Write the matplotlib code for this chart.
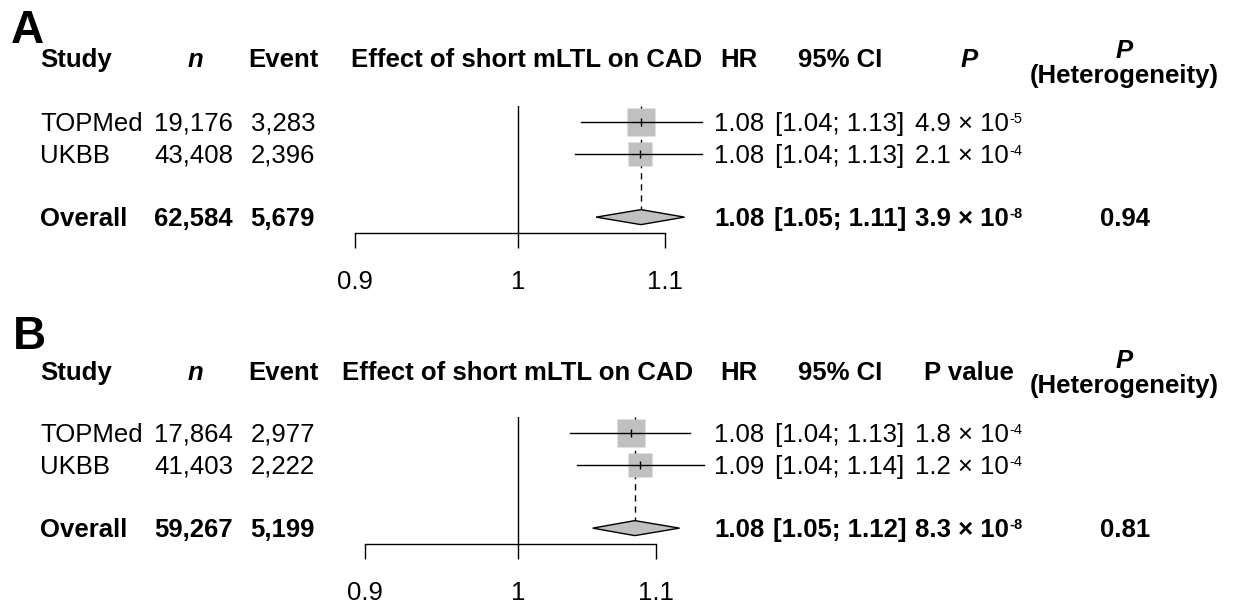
import numpy as np
import matplotlib
matplotlib.use("Agg")
import matplotlib.pyplot as plt
from matplotlib.patches import Polygon
from matplotlib.ticker import NullLocator

plt.rcParams["font.family"] = ["Liberation Sans", "DejaVu Sans"]

# ── Data ──────────────────────────────────────────────────────────────────
studies = ["TOPMed", "UKBB"]

# panel A
n_a = [19176, 43408]
event_a = [3283, 2396]
hr_a = [1.083, 1.082]
lo_a = [1.042, 1.038]
hi_a = [1.127, 1.127]
weight_a = [54, 46]
p_a = [4.9e-5, 2.1e-4]
n_all_a, event_all_a = 62584, 5679
hr_all_a, lo_all_a, hi_all_a = 1.083, 1.052, 1.114
p_all_a, p_het_a = 3.9e-8, 0.94

# panel B
n_b = [17864, 41403]
event_b = [2977, 2222]
hr_b = [1.081, 1.088]
lo_b = [1.037, 1.042]
hi_b = [1.126, 1.137]
weight_b = [54, 46]
p_b = [1.8e-4, 1.2e-4]
n_all_b, event_all_b = 59267, 5199
hr_all_b, lo_all_b, hi_all_b = 1.084, 1.053, 1.118
p_all_b, p_het_b = 8.3e-8, 0.81

ticks = [0.9, 1, 1.1]
tick_labels = ["0.9", "1", "1.1"]

W, H = 1250, 605
FS = 18.5
GREY = "#c0c0c0"


def split_p(p):
    e = int(np.floor(np.log10(p)))
    m = p / 10 ** e
    return f"{m:.1f} × 10", f"{e:d}"


fig = plt.figure(figsize=(W / 100, H / 100), dpi=100)
ax_t = fig.add_axes([0, 0, 1, 1])
ax_t.set_xlim(0, W)
ax_t.set_ylim(H, 0)
ax_t.axis("off")


def panel(label, lay, n, ev, hr, lo, hi, wt, pv,
          n_all, ev_all, hr_all, lo_all, hi_all, p_all, p_het, p_head):
    top, bot, x0, x1 = lay["top"], lay["bot"], lay["x09"], lay["x11"]
    rowh = (bot - top) / 4.0
    ax = fig.add_axes([x0 / W, 1 - bot / H, (x1 - x0) / W, (bot - top) / H])
    ax.patch.set_alpha(0)
    ax.set_xscale("log")
    ax.set_xlim(0.9, 1.1)
    ax.set_ylim(3.5, -0.5)
    ax.xaxis.set_minor_locator(NullLocator())
    ax.set_xticks(ticks)
    ax.set_xticklabels(tick_labels)
    ax.tick_params(axis="x", direction="out", length=10.8, width=1.0,
                   pad=16, labelsize=FS)
    ax.set_yticks([])
    for s in ["top", "left", "right"]:
        ax.spines[s].set_visible(False)
    ax.spines["bottom"].set_linewidth(1.0)

    ax.axvline(1, color="black", lw=1.0)
    dh = 7.5 / rowh
    ax.plot([hr_all, hr_all], [-0.5, 3 - dh], color="black", lw=1.0,
            ls=(0, (4.5, 3.5)), clip_on=False)
    wmax = max(wt)
    for i in range(len(hr)):
        ax.plot(hr[i], i, marker="s", ms=19.5 * np.sqrt(wt[i] / wmax),
                color=GREY, mec="none", clip_on=False, zorder=2)
        ax.plot([lo[i], hi[i]], [i, i], color="black", lw=1.0,
                clip_on=False, zorder=3)
        ax.plot(hr[i], i, marker="|", ms=6, mew=1.0, color="black",
                clip_on=False, zorder=4)
    ax.add_patch(Polygon([(lo_all, 3), (hr_all, 3 - dh), (hi_all, 3),
                          (hr_all, 3 + dh)], closed=True, fc=GREY,
                         ec="black", lw=1.0, clip_on=False, zorder=3))

    # text table
    hb = lay["head"]
    ax_t.text(lay["lab_x"], lay["lab_y"], label, fontsize=33,
              fontweight="bold", ha="left", va="baseline")
    hd = dict(fontsize=FS, fontweight="bold", va="baseline")
    ax_t.text(40, hb, "Study", ha="left", **hd)
    ax_t.text(195, hb, "n", ha="center", style="italic", **hd)
    ax_t.text(283, hb, "Event", ha="center", **hd)
    ax_t.text(lay["eff_x"], hb, "Effect of short mLTL on CAD", ha="center", **hd)
    ax_t.text(739, hb, "HR", ha="center", **hd)
    ax_t.text(840, hb, "95% CI", ha="center", **hd)
    if p_head == "P":
        ax_t.text(969, hb, "P", ha="center", style="italic", **hd)
    else:
        ax_t.text(969, hb, p_head, ha="center", **hd)
    ax_t.text(1124, lay["het1"], "P", ha="center", style="italic", **hd)
    ax_t.text(1124, lay["het2"], "(Heterogeneity)", ha="center", **hd)

    def row(yc, name, nn, ee, h, l, u, p, bold, het=None):
        fw = "bold" if bold else "normal"
        kw = dict(fontsize=FS, va="baseline", fontweight=fw)
        yb = yc + 9
        ax_t.text(40, yb, name, ha="left", **kw)
        ax_t.text(233, yb, f"{nn:,}", ha="right", **kw)
        ax_t.text(315, yb, f"{ee:,}", ha="right", **kw)
        ax_t.text(739, yb, f"{h:.2f}", ha="center", **kw)
        ax_t.text(840, yb, f"[{l:.2f}; {u:.2f}]", ha="center", **kw)
        base, ex = split_p(p)
        t = ax_t.text(962, yb, base, ha="center", **kw)
        ax_t.annotate(ex, xy=(1, 1), xycoords=t, xytext=(0.5, 0),
                      textcoords="offset points", ha="left", va="top",
                      fontsize=10.5, fontweight=fw)
        if het is not None:
            ax_t.text(1125, yb, f"{het:.2f}", ha="center", **kw)

    for i in range(len(studies)):
        row(top + (i + 0.5) * rowh, studies[i], n[i], ev[i], hr[i], lo[i],
            hi[i], pv[i], False)
    row(top + 3.5 * rowh, "Overall", n_all, ev_all, hr_all, lo_all, hi_all,
        p_all, True, p_het)


lay_a = dict(top=106, bot=233, x09=355, x11=665, head=67, het1=58, het2=83,
             lab_x=11, lab_y=43, eff_x=527)
lay_b = dict(top=417, bot=544, x09=365, x11=656, head=380, het1=368, het2=393,
             lab_x=13, lab_y=349, eff_x=518)

panel("A", lay_a, n_a, event_a, hr_a, lo_a, hi_a, weight_a, p_a,
      n_all_a, event_all_a, hr_all_a, lo_all_a, hi_all_a, p_all_a, p_het_a, "P")
panel("B", lay_b, n_b, event_b, hr_b, lo_b, hi_b, weight_b, p_b,
      n_all_b, event_all_b, hr_all_b, lo_all_b, hi_all_b, p_all_b, p_het_b,
      "P value")

fig.savefig("out.png", dpi=100, facecolor="white")
